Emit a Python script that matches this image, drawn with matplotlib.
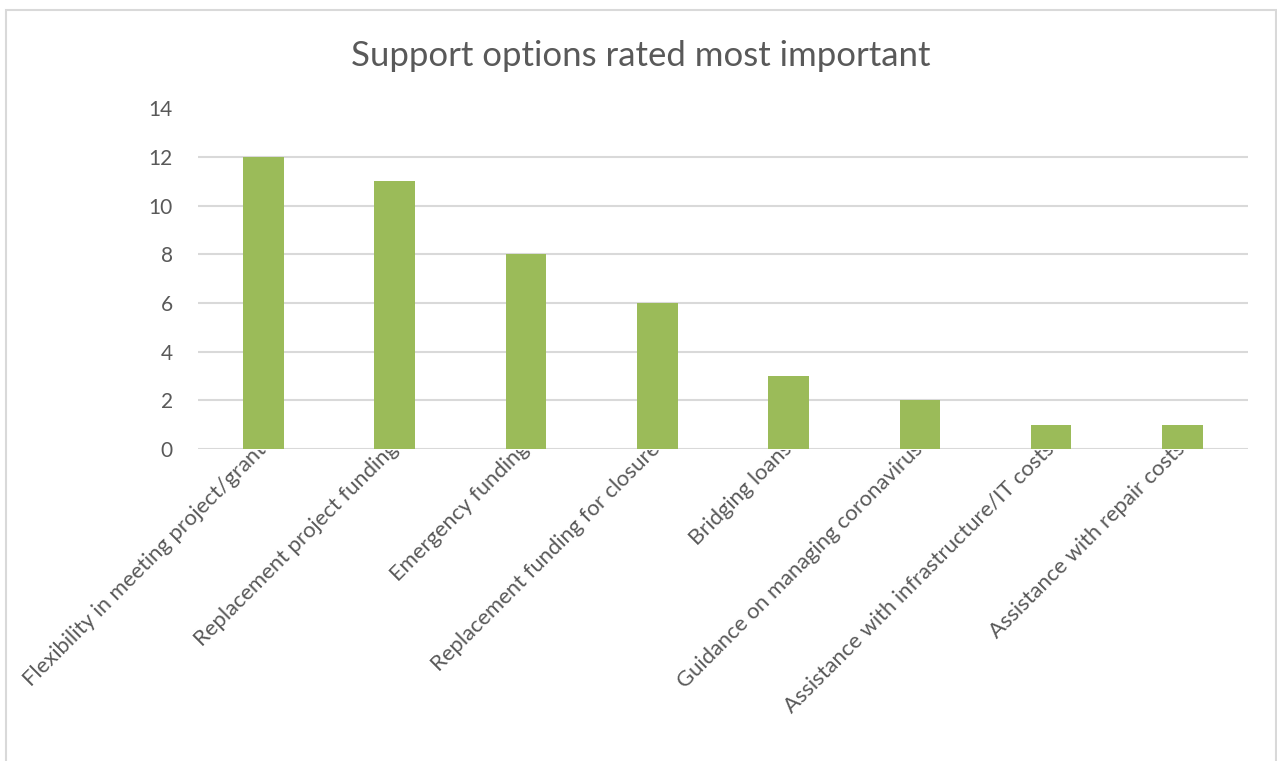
import matplotlib.pyplot as plt
from matplotlib.patches import Rectangle
from matplotlib.transforms import Bbox, TransformedBbox

options = [
    "Flexibility in meeting project/grant",
    "Replacement project funding",
    "Emergency funding",
    "Replacement funding for closure",
    "Bridging loans",
    "Guidance on managing coronavirus",
    "Assistance with infrastructure/IT costs",
    "Assistance with repair costs",
]
counts = [12, 11, 8, 6, 3, 2, 1, 1]
y_ticks = [0, 2, 4, 6, 8, 10, 12, 14]

plt.rcParams['font.family'] = ['Lato', 'DejaVu Sans']
text_color = '#595959'
grid_color = '#D9D9D9'

fig = plt.figure(figsize=(12.77, 7.61), dpi=100)
ax = fig.add_axes([0.155, 0.410, 0.8223, 0.4475])

x = list(range(len(options)))
ax.bar(x, counts, width=0.31, color='#9BBB59', zorder=3)

ax.set_xlim(-0.5, len(options) - 0.5)
ax.set_ylim(0, 14)
ax.set_yticks(y_ticks)
ax.set_yticklabels([str(t) for t in y_ticks], fontsize=15, color=text_color)

# gridlines, except at the top of the range
for t in y_ticks[:-1]:
    ax.axhline(t, color=grid_color, lw=1.5, zorder=1)

for s in ax.spines.values():
    s.set_visible(False)
ax.tick_params(axis='both', length=0)
ax.tick_params(axis='y', pad=18)

ax.set_xticks(x)
ax.set_xticklabels(options, rotation=45, ha='right', va='center',
                   rotation_mode='anchor', fontsize=15.8, color=text_color)
ax.tick_params(axis='x', pad=-2)

# labels are cut off at the category axis line
axis_bottom = ax.get_position().y0
clip = TransformedBbox(Bbox([[0, 0], [1, axis_bottom - 0.001]]), fig.transFigure)
for lbl in ax.get_xticklabels():
    lbl.set_clip_on(True)
    lbl.set_clip_box(clip)

fig.text(0.502, 0.926, "Support options rated most important",
         ha='center', va='center', fontsize=25, color=text_color)

# chart frame
fig.patches.append(Rectangle((6 / 1277, -0.05), 1270 / 1277, 1.05 - 10 / 761,
                             transform=fig.transFigure, fill=False,
                             edgecolor=grid_color, lw=1.5))

fig.savefig('out.png', dpi=100)
